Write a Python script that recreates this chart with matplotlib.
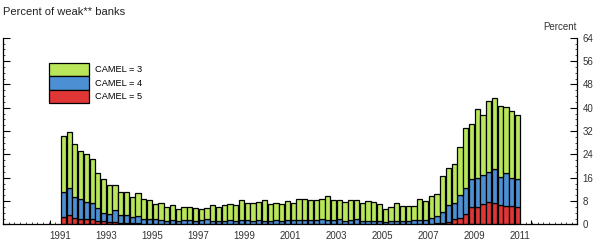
import matplotlib.pyplot as plt
import numpy as np

plt.rcParams['font.family'] = ['Liberation Sans', 'DejaVu Sans']

# quarterly, 1991Q1 - 2010Q4, percent of banks
# weak = CAMEL 3, 4 or 5 (top of stack)
weak = [30.4, 31.6, 27.6, 25.3, 24.0, 22.3, 17.7, 15.5, 13.5, 13.5,
        11.1, 11.1, 9.5, 10.7, 8.6, 8.2, 7.0, 7.4, 5.9, 6.5,
        5.2, 6.0, 6.0, 5.6, 5.2, 5.6, 6.5, 6.1, 6.5, 7.1,
        6.5, 8.4, 7.4, 7.4, 7.8, 8.4, 6.9, 7.4, 7.1, 7.9,
        7.4, 8.8, 8.8, 8.4, 8.4, 8.8, 9.7, 8.4, 8.3, 7.7,
        8.3, 8.3, 7.3, 7.9, 7.8, 6.9, 5.4, 5.9, 7.3, 6.3,
        6.3, 6.4, 8.7, 7.9, 9.6, 10.5, 16.7, 19.4, 20.7, 26.6,
        33.2, 34.3, 39.5, 37.5, 42.3, 43.2, 40.6, 40.1, 38.8, 37.5]
# CAMEL 4 or 5
camel45 = [11.2, 12.4, 9.5, 8.7, 7.8, 7.4, 5.5, 3.8, 3.6, 4.8,
           3.1, 3.1, 2.6, 2.8, 1.7, 1.8, 1.7, 1.5, 1.2, 1.4,
           1.3, 1.5, 1.4, 1.0, 1.6, 1.7, 1.2, 1.3, 1.1, 1.4,
           1.2, 1.6, 1.5, 1.3, 1.4, 1.2, 1.0, 1.4, 1.3, 1.5,
           1.5, 1.6, 1.5, 1.4, 1.5, 1.7, 1.6, 1.6, 1.8, 1.3,
           1.6, 1.7, 1.2, 1.3, 1.2, 1.0, 0.9, 1.3, 1.2, 1.0,
           1.3, 1.4, 1.5, 1.6, 2.1, 2.9, 4.4, 6.7, 7.4, 10.1,
           12.4, 15.5, 16.0, 17.0, 17.8, 18.9, 16.2, 17.5, 16.0, 15.5]
# CAMEL 5
camel5 = [2.4, 3.1, 2.3, 2.0, 2.0, 1.7, 1.2, 1.0, 0.8, 0.8,
          0.6, 0.6, 0.5, 0.5, 0.3, 0.3, 0.2, 0.3, 0.2, 0.2,
          0.2, 0.2, 0.2, 0.1, 0.2, 0.2, 0.2, 0.2, 0.1, 0.2,
          0.2, 0.2, 0.2, 0.2, 0.2, 0.2, 0.1, 0.2, 0.2, 0.2,
          0.2, 0.2, 0.2, 0.2, 0.2, 0.2, 0.2, 0.2, 0.2, 0.2,
          0.2, 0.2, 0.2, 0.2, 0.2, 0.1, 0.1, 0.2, 0.2, 0.1,
          0.2, 0.2, 0.2, 0.2, 0.3, 0.4, 0.5, 0.8, 1.8, 2.3,
          3.4, 6.0, 5.8, 7.0, 7.6, 7.2, 6.5, 6.3, 6.4, 6.0]

years = list(range(1991, 2012, 2))

weak = np.array(weak)
camel45 = np.array(camel45)
camel5 = np.array(camel5)
seg5 = camel5
seg4 = camel45 - camel5
seg3 = weak - camel45

x = np.arange(len(weak))

fig = plt.figure(figsize=(6, 2.43), dpi=100)
ax = fig.add_axes([0.005, 0.0765, 0.957, 0.7685])

green = "#b9e65a"
blue = "#4d8fd3"
red = "#e03636"
w = 0.9
lw = 0.9
ax.bar(x, seg5, w, color=red, edgecolor="black", linewidth=lw, label="CAMEL = 5")
ax.bar(x, seg4, w, bottom=seg5, color=blue, edgecolor="black", linewidth=lw, label="CAMEL = 4")
ax.bar(x, seg3, w, bottom=seg5 + seg4, color=green, edgecolor="black", linewidth=lw, label="CAMEL = 3")

ax.set_xlim(-10.4, 89.4)
ax.set_ylim(0, 64)

ax.spines["top"].set_visible(False)
for s in ["left", "right", "bottom"]:
    ax.spines[s].set_linewidth(0.9)

# years
ax.set_xticks([(y - 1991) * 4 - 0.5 for y in years], [str(y) for y in years])
ax.set_xticks(np.arange(-10, 90, 1) - 0.5, minor=True)
ax.tick_params(axis="x", which="major", length=0, pad=5, labelsize=7, labelcolor="#333333")
ax.tick_params(axis="x", which="minor", direction="in", length=1.2, width=0.5)
ax.vlines([-2.4, 81.4], 0, 1.4, color="black", linewidth=0.8)

ax.set_yticks(np.arange(0, 65, 8))
ax.set_yticks(np.arange(0, 65, 2), minor=True)
ax.yaxis.set_ticks_position("both")
ax.tick_params(axis="y", which="major", direction="in", length=5, width=0.8,
               left=True, right=True, labelleft=False, labelright=True,
               labelsize=7, labelcolor="#333333", pad=4)
ax.tick_params(axis="y", which="minor", direction="in", length=1.5, width=0.5,
               left=True, right=True)

handles, labels = ax.get_legend_handles_labels()
leg = ax.legend(handles[::-1], labels[::-1], loc="upper left",
                bbox_to_anchor=(0.08, 0.866), frameon=False, fontsize=6.7,
                handlelength=4.3, handleheight=1.85, labelspacing=0.0,
                handletextpad=0.6, borderpad=0, borderaxespad=0)

fig.text(0.005, 0.95, "Percent of weak** banks", fontsize=8, ha="left", va="center",
         color="#222222")
fig.text(0.933, 0.888, "Percent", fontsize=7, ha="center", va="center", color="#333333")

fig.savefig("out.png", dpi=100)
